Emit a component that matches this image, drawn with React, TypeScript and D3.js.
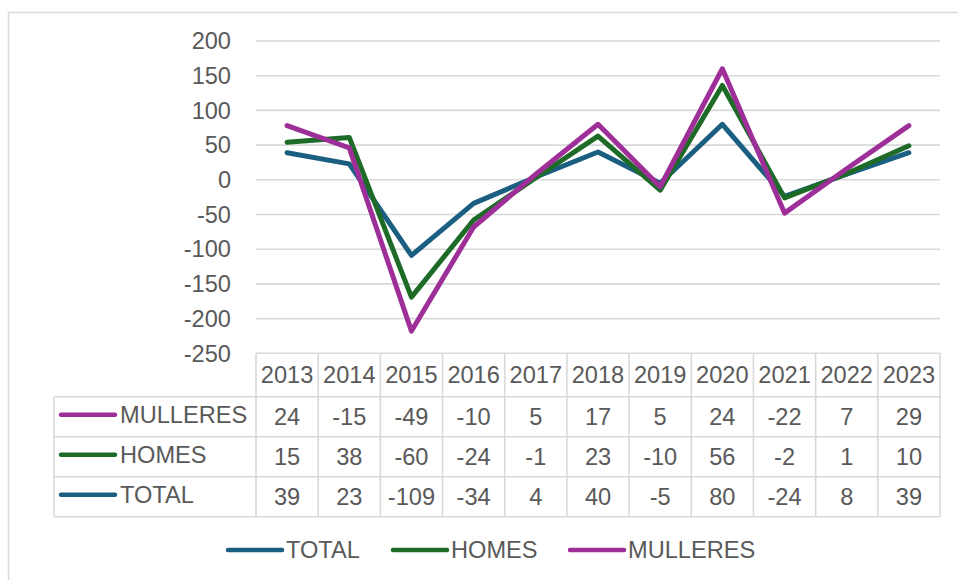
import React from 'react';
import * as d3 from 'd3';

const years = ['2013', '2014', '2015', '2016', '2017', '2018', '2019', '2020', '2021', '2022', '2023'];
const total = [39, 23, -109, -34, 4, 40, -5, 80, -24, 8, 39];
const homes = [15, 38, -60, -24, -1, 23, -10, 56, -2, 1, 10];
const mulleres = [24, -15, -49, -10, 5, 17, 5, 24, -22, 7, 29];
const yTicks = [200, 150, 100, 50, 0, -50, -100, -150, -200, -250];

const FONT = '"Liberation Sans", Arial, sans-serif';
const TXT = '#595959';
const GRID = '#d9d9d9';
const FS = 23.6;

export default function App() {
  const x = d3.scaleBand<string>().domain(years).range([256, 940]);
  const y = d3.scaleLinear().domain([-250, 200]).range([353.3, 41]);
  const cx = (yr: string) => (x(yr) as number) + x.bandwidth() / 2;

  // stacked line: each series adds on top of the previous
  const cumHomes = total.map((v, i) => v + homes[i]);
  const cumMull = cumHomes.map((v, i) => v + mulleres[i]);

  const series = [
    { name: 'TOTAL', color: '#1a5e82', raw: total, plot: total },
    { name: 'HOMES', color: '#1d6b27', raw: homes, plot: cumHomes },
    { name: 'MULLERES', color: '#9e2f98', raw: mulleres, plot: cumMull },
  ];
  const tableRows = [series[2], series[1], series[0]];

  const line = d3.line<number>()
    .x((d, i) => cx(years[i]))
    .y(d => y(d));

  const tableTop = y(-250);
  const headerH = 43.4;
  const rowH = 40;
  const tableLeft = 54;

  const legendItems = [
    { s: series[0], x: 228 },
    { s: series[1], x: 393 },
    { s: series[2], x: 570 },
  ];

  return (
    <svg width={958} height={580} style={{ position: 'absolute', left: 0, top: 0 }} fontFamily={FONT}>
      <rect x={0} y={0} width={958} height={580} fill="#fff" />
      <rect x={8.5} y={12.5} width={1000} height={600} fill="none" stroke={GRID} strokeWidth={1.5} />

      {yTicks.map(t => (
        <g key={t}>
          {t > -250 && (
            <line x1={256} x2={940} y1={y(t)} y2={y(t)} stroke={GRID} strokeWidth={1.6} />
          )}
          <text x={231} y={y(t)} dy="0.35em" textAnchor="end" fontSize={FS} fill={TXT}>{t}</text>
        </g>
      ))}

      {/* data table */}
      <g stroke={GRID} strokeWidth={1.6}>
        <line x1={256} x2={940} y1={tableTop} y2={tableTop} />
        {tableRows.map((r, i) => (
          <line key={r.name} x1={tableLeft} x2={940} y1={tableTop + headerH + i * rowH} y2={tableTop + headerH + i * rowH} />
        ))}
        <line x1={tableLeft} x2={940} y1={tableTop + headerH + 3 * rowH} y2={tableTop + headerH + 3 * rowH} />
        <line x1={tableLeft} x2={tableLeft} y1={tableTop + headerH} y2={tableTop + headerH + 3 * rowH} />
        {years.map(yr => (
          <line key={yr} x1={x(yr) as number} x2={x(yr) as number} y1={tableTop} y2={tableTop + headerH + 3 * rowH} />
        ))}
        <line x1={940} x2={940} y1={tableTop} y2={tableTop + headerH + 3 * rowH} />
      </g>
      {years.map(yr => (
        <text key={yr} x={cx(yr)} y={tableTop + headerH / 2} dy="0.35em" textAnchor="middle" fontSize={FS} fill={TXT}>{yr}</text>
      ))}
      {tableRows.map((r, i) => {
        const ry = tableTop + headerH + i * rowH + rowH / 2;
        return (
          <g key={r.name}>
            <line x1={61} x2={115} y1={ry - 2} y2={ry - 2} stroke={r.color} strokeWidth={4.5} strokeLinecap="round" />
            <text x={120} y={ry - 2} dy="0.35em" fontSize={FS} fill={TXT}>{r.name}</text>
            {r.raw.map((v, j) => (
              <text key={j} x={cx(years[j])} y={ry} dy="0.35em" textAnchor="middle" fontSize={FS} fill={TXT}>{v}</text>
            ))}
          </g>
        );
      })}

      {/* lines */}
      {series.map(s => (
        <path key={s.name} d={line(s.plot) as string} fill="none" stroke={s.color} strokeWidth={5} strokeLinejoin="round" strokeLinecap="round" />
      ))}

      {/* legend */}
      {legendItems.map(({ s, x: lx }) => (
        <g key={s.name}>
          <line x1={lx} x2={lx + 54} y1={550} y2={550} stroke={s.color} strokeWidth={4.5} strokeLinecap="round" />
          <text x={lx + 58} y={550} dy="0.35em" fontSize={FS} fill={TXT}>{s.name}</text>
        </g>
      ))}
    </svg>
  );
}
